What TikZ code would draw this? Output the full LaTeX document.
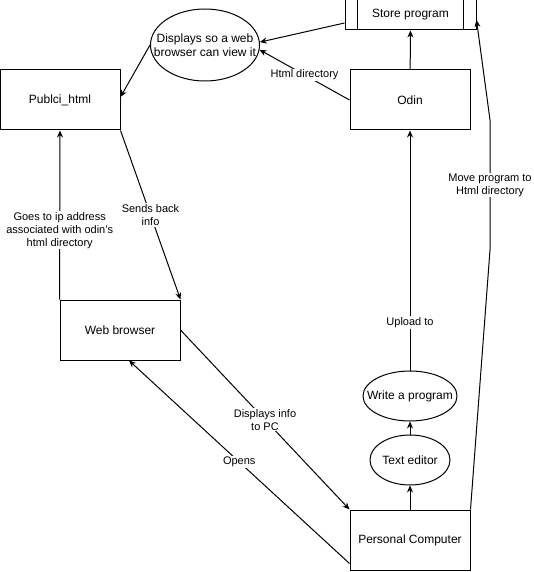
\documentclass[tikz,border=0pt]{standalone}
\usepackage{fontspec}
\setmainfont{Liberation Sans}
\usetikzlibrary{arrows.meta,shapes.geometric,calc}
\tikzset{
  box/.style={draw, line width=1pt, fill=white, minimum width=120pt, minimum height=60pt,
    font=\fontsize{12}{14}\selectfont},
  bubble/.style={draw, line width=1pt, ellipse, inner sep=0pt, fill=white,
    label={[font=\fontsize{12}{14}\selectfont, align=center]center:#1}},
  flow/.style={draw, line width=1pt, -{Stealth[length=7pt,width=6pt]}},
  lbl/.style={font=\fontsize{11}{13}\selectfont, fill=white, inner sep=1pt, align=center}
}
\begin{document}
\begin{tikzpicture}[x=1pt, y=-1pt]
    \useasboundingbox (0,0) rectangle (534,572);
    % boxes, pixel grid of the page (y downwards)
    \node[box] (publ) at (60,100)  {Publci\_html};
    \node[box] (odin) at (410,100) {Odin};
    \node[box] (web)  at (120,330) {Web browser};
    \node[box] (pc)   at (410,540) {Personal Computer};
    \node[box, minimum width=131pt, minimum height=30pt] (store) at (410.5,15) {Store program};
    \draw[line width=1pt] ($(store.north west)+(13,0)$) -- ($(store.south west)+(13,0)$);
    \draw[line width=1pt] ($(store.north east)+(-13,0)$) -- ($(store.south east)+(-13,0)$);

    \node[bubble={Displays so a web\\browser can view it}, minimum width=109pt, minimum height=72pt] (view) at (205,45) {};
    \node[bubble={Write a program}, minimum width=94pt, minimum height=50pt] (write) at (410,396) {};
    \node[bubble={Text editor}, minimum width=80pt, minimum height=50pt] (edit) at (410,460) {};

    % top part
    \draw[flow] ($(store.west)+(0,8)$) -- (view.3);
    \draw[flow] (odin.west) -- node[lbl]{Html directory} (view.-5);
    \draw[flow] (odin) -- (store);
    \draw[flow] (view.west) -- ($(publ.east)+(0,-3)$);

    % browser side
    \draw[flow] (publ.south east) -- node[lbl]{Sends back\\info} (web.north east);
    \draw[flow] (web.north west) -- node[lbl, pos=0.41]{Goes to ip address\\associated with odin's\\html directory} (publ.south);
    \draw[flow] (web.east) -- node[lbl]{Displays info\\to PC} (pc.north west);
    \draw[flow] ($(pc.south west)+(0,-7)$) -- node[lbl]{Opens} ($(web.south)+(9,0)$);

    % pc column
    \draw[flow] (pc) -- (edit);
    \draw[flow] (edit) -- (write);
    \draw[flow] (write) -- node[lbl, pos=0.2]{Upload to} (odin);
    \draw[flow] (pc.north east) -- (490,250) -- node[lbl]{Move program to\\Html directory} (490,120)
      -- ($(store.east)+(0,5)$);
\end{tikzpicture}
\end{document}
